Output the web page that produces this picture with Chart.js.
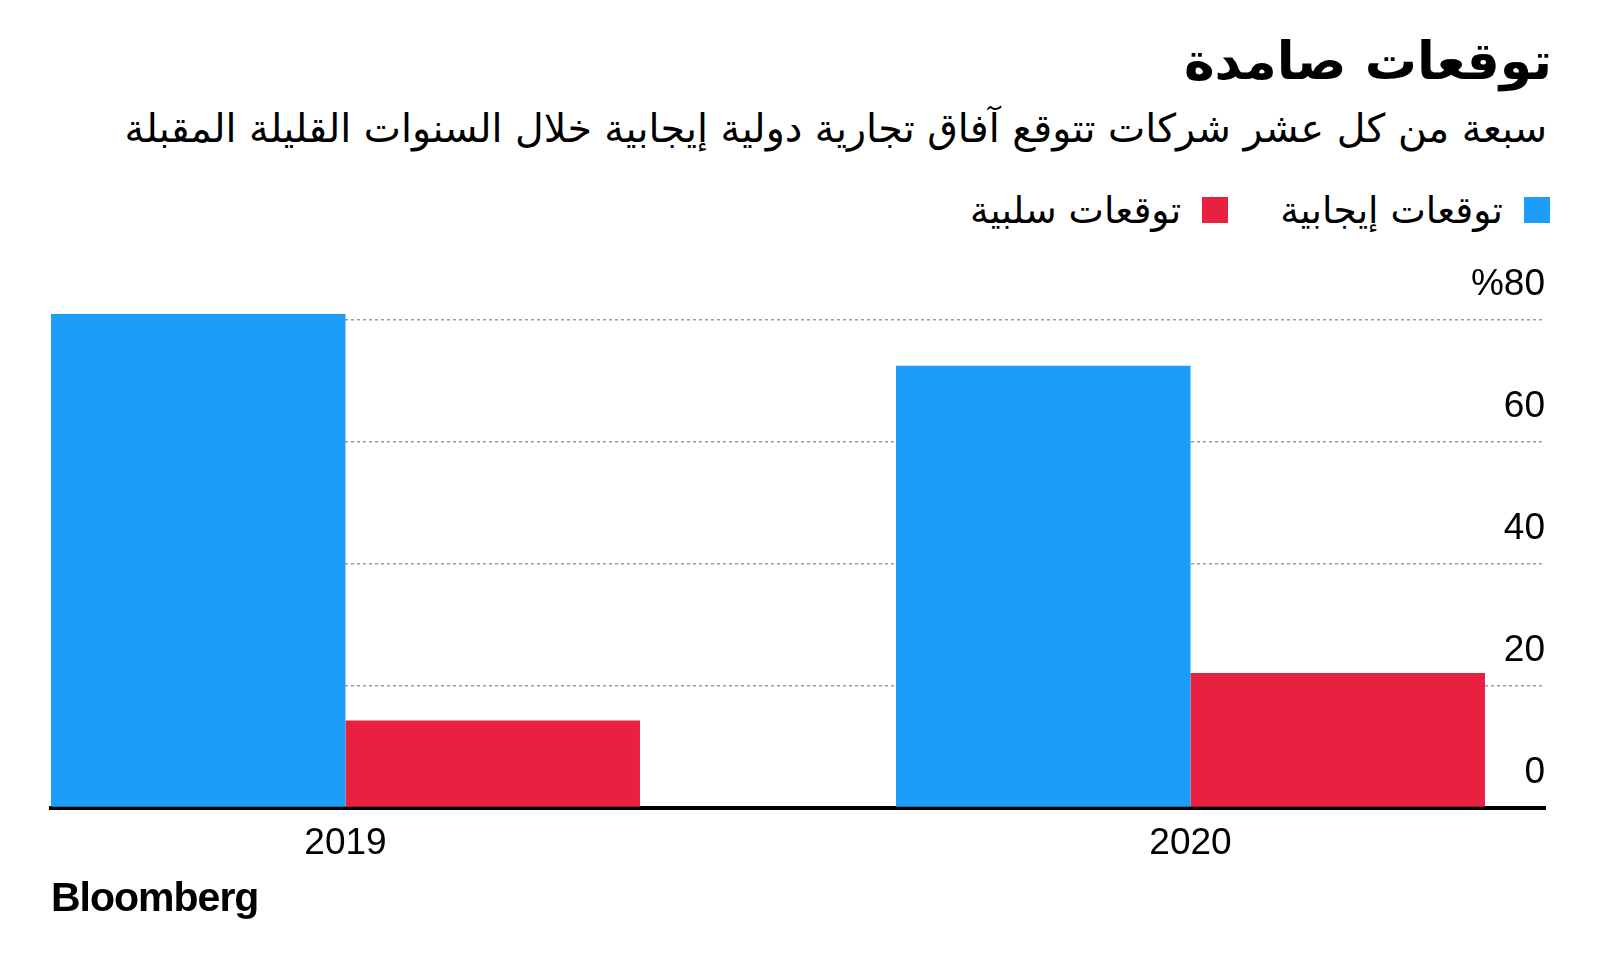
<!DOCTYPE html>
<html>
<head>
<meta charset="utf-8">
<script src="https://cdn.jsdelivr.net/npm/chart.js@4.4.1/dist/chart.umd.min.js"></script>
<style>
  html, body { margin: 0; padding: 0; background: #fff; }
  body { width: 1600px; height: 960px; position: relative; overflow: hidden; font-family: "DejaVu Sans", "Liberation Sans", sans-serif; color: #000; }
  #title { position: absolute; right: 48px; top: 31px; font-size: 52px; font-weight: bold; direction: rtl; white-space: nowrap; }
  #subtitle { position: absolute; right: 53px; top: 105px; font-size: 39.5px; direction: rtl; white-space: nowrap; }
  #legend { position: absolute; right: 50px; top: 188px; direction: rtl; display: flex; gap: 52px; font-size: 37.5px; white-space: nowrap; }
  .item { display: flex; align-items: center; gap: 21px; }
  .box { width: 26px; height: 26px; display: inline-block; }
  #wrap { position: absolute; left: 0; top: 240px; width: 1600px; height: 640px; }
  #logo { position: absolute; left: 51px; top: 874px; font-family: "Liberation Sans", Arial, sans-serif; font-weight: bold; font-size: 41px; letter-spacing: -1px; }
</style>
</head>
<body>
<div id="title">توقعات صامدة</div>
<div id="subtitle">سبعة من كل عشر شركات تتوقع آفاق تجارية دولية إيجابية خلال السنوات القليلة المقبلة</div>
<div id="legend"></div>
<div id="wrap"><canvas id="bar_chart"></canvas></div>
<div id="logo">Bloomberg</div>
<script>
const years = ["2019", "2020"];
const seriesNames = ["توقعات إيجابية", "توقعات سلبية"];
const positive = [81, 72.5];
const negative = [14.3, 22.1];
const yTicks = [0, 20, 40, 60, 80];
const colores = ["#1b9df9", "#e82141"];

// leyenda en html
const legend = document.getElementById("legend");
seriesNames.forEach((name, i) => {
  const item = document.createElement("div");
  item.className = "item";
  item.innerHTML = '<span class="box" style="background:' + colores[i] + '"></span><span>' + name + '</span>';
  legend.appendChild(item);
});

const ctx = document.getElementById("bar_chart").getContext("2d");
const chart = new Chart(ctx, {
  type: "bar",
  data: {
    datasets: [
      {
        label: seriesNames[0],
        data: years.map((y, i) => ({ x: i, y: positive[i] })),
        backgroundColor: colores[0],
      },
      {
        label: seriesNames[1],
        data: years.map((y, i) => ({ x: i, y: negative[i] })),
        backgroundColor: colores[1],
      },
    ],
  },
  options: {
    responsive: true,
    maintainAspectRatio: false,
    animation: false,
    categoryPercentage: 0.697,
    barPercentage: 1,
    layout: { padding: { left: 51, right: 55, top: 55.6, bottom: 0 } },
    plugins: {
      legend: { display: false },
      tooltip: { enabled: false },
    },
    scales: {
      x: {
        type: "linear",
        offset: false,
        min: -0.3485,
        max: 1.4195,
        z: 1,
        afterBuildTicks: (axis) => { axis.ticks = years.map((y, i) => ({ value: i })); },
        grid: { display: false, drawTicks: false },
        border: { display: true, color: "#000", width: 4 },
        ticks: {
          callback: (v) => years[v],
          color: "#000",
          padding: 14,
          maxRotation: 0,
          autoSkip: false,
          font: { family: "Liberation Sans", size: 37 },
        },
      },
      y: {
        position: "right",
        min: 0,
        max: 84,
        afterBuildTicks: (axis) => { axis.ticks = yTicks.map((v) => ({ value: v })); },
        grid: {
          color: (c) => (c.tick && c.tick.value === 0 ? "rgba(0,0,0,0)" : "#9a9a9a"),
          lineWidth: 1.5,
          drawTicks: false,
        },
        border: { display: false, dash: [3, 3] },
        ticks: {
          mirror: true,
          padding: 0,
          labelOffset: -35,
          color: "#000",
          font: { family: "Liberation Sans", size: 37 },
          callback: (v) => (v === 80 ? "%80" : String(v)),
        },
      },
    },
  },
});
</script>
</body>
</html>
